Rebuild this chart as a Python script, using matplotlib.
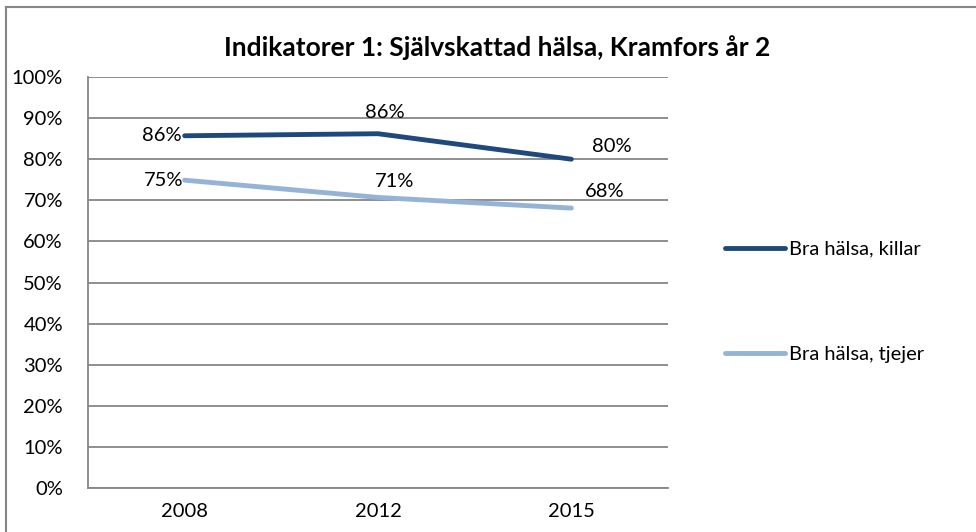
import matplotlib
matplotlib.use("Agg")
import matplotlib.pyplot as plt
from matplotlib.lines import Line2D
from matplotlib.ticker import FuncFormatter, MultipleLocator

plt.rcParams['font.family'] = ['Lato', 'DejaVu Sans']

years = ["2008", "2012", "2015"]
killar = [86, 86, 80]
tjejer = [75, 71, 68]
killar_exact = [85.7, 86.2, 80.0]
tjejer_exact = [74.9, 70.7, 68.1]
series_names = ["Bra hälsa, killar", "Bra hälsa, tjejer"]
title = "Indikatorer 1: Självskattad hälsa, Kramfors år 2"

W, H = 976, 532
FS = 14.5
LW = 3.5
fig = plt.figure(figsize=(W / 100, H / 100), dpi=100)
ax = fig.add_axes([88 / W, (H - 488) / H, 580 / W, 411 / H])

x = list(range(len(years)))
dark = "#1F497D"
light = "#95B3D7"
ax.plot(x, killar_exact, color=dark, lw=LW, solid_capstyle="round", solid_joinstyle="round", zorder=3)
ax.plot(x, tjejer_exact, color=light, lw=LW, solid_capstyle="round", solid_joinstyle="round", zorder=3)

ax.set_xlim(-0.5, 2.5)
ax.set_ylim(0, 100)
ax.yaxis.set_major_locator(MultipleLocator(10))
ax.yaxis.set_major_formatter(FuncFormatter(lambda v, p: f"{int(v)}%"))
ax.set_xticks(x)
ax.set_xticklabels(years)
ax.tick_params(axis="both", length=0, labelsize=FS, colors="black")
ax.tick_params(axis="y", pad=18)
ax.tick_params(axis="x", pad=11)
ax.grid(axis="y", color="#868686", lw=1.3)
ax.set_axisbelow(True)
for s in ["top", "right"]:
    ax.spines[s].set_visible(False)
for s in ["left", "bottom"]:
    ax.spines[s].set_color("#868686")
    ax.spines[s].set_linewidth(1.3)

# data labels
offsets_k = [(-2, 0, "right", "center"), (5, 9, "center", "bottom"), (15, 3, "left", "bottom")]
offsets_t = [(-1, 0, "right", "center"), (12, 5, "center", "bottom"), (10, 6, "left", "bottom")]
for xi, yv, lab, (dx, dy, ha, va) in zip(x, killar_exact, killar, offsets_k):
    ax.annotate(f"{lab}%", (xi, yv), xytext=(dx, dy), textcoords="offset points",
                ha=ha, va=va, fontsize=FS)
for xi, yv, lab, (dx, dy, ha, va) in zip(x, tjejer_exact, tjejer, offsets_t):
    ax.annotate(f"{lab}%", (xi, yv), xytext=(dx, dy), textcoords="offset points",
                ha=ha, va=va, fontsize=FS)

fig.text(497 / W, 1 - 48 / H, title, ha="center", va="center", fontsize=19, fontweight="bold")

handles = [Line2D([0], [0], color=dark, lw=LW, solid_capstyle="round"),
           Line2D([0], [0], color=light, lw=LW, solid_capstyle="round")]
fig.legend(handles, series_names, loc="center left", bbox_to_anchor=(707 / W, 1 - 302 / H),
           frameon=False, fontsize=FS, handlelength=2.95, handletextpad=0.2, labelspacing=4.4)

# outer chart border (top and left)
fig.add_artist(Line2D([6 / W, 1], [1 - 7 / H, 1 - 7 / H], transform=fig.transFigure, color="#868686", lw=1.5))
fig.add_artist(Line2D([6 / W, 6 / W], [0, 1 - 7 / H], transform=fig.transFigure, color="#868686", lw=1.5))

fig.savefig("out.png", dpi=100)
